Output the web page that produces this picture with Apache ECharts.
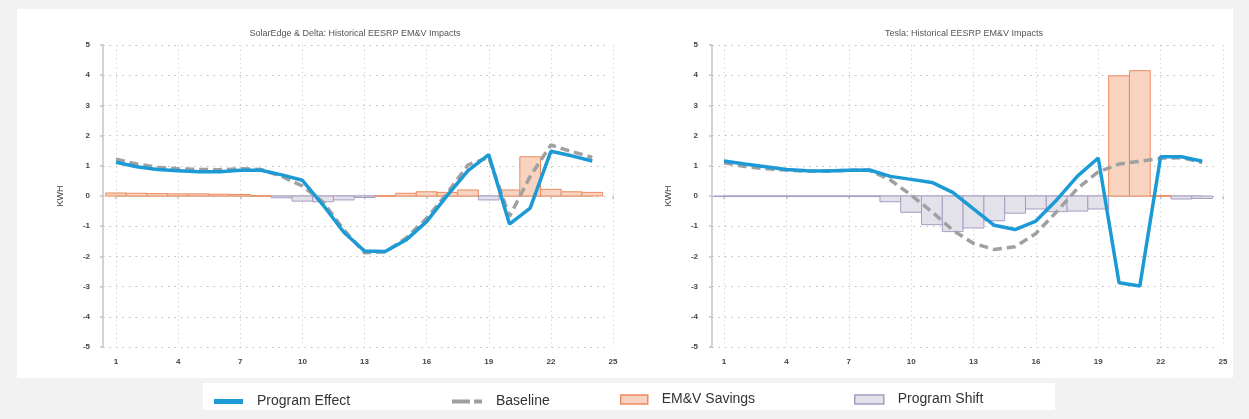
<!DOCTYPE html>
<html>
<head>
<meta charset="utf-8">
<script src="https://cdn.jsdelivr.net/npm/echarts@6/dist/echarts.min.js"></script>
<style>
  html, body { margin: 0; padding: 0; background: #f2f2f2; }
  #chart { width: 1249px; height: 419px; }
</style>
</head>
<body>
<div id="chart"></div>
<script>
// Hour of day (1..24)
const hours = [1,2,3,4,5,6,7,8,9,10,11,12,13,14,15,16,17,18,19,20,21,22,23,24];
const xTicks = [1, 4, 7, 10, 13, 16, 19, 22, 25];
const yTicks = [-5, -4, -3, -2, -1, 0, 1, 2, 3, 4, 5];

const titles = ['SolarEdge & Delta: Historical EESRP EM&V Impacts', 'Tesla: Historical EESRP EM&V Impacts'];

// SolarEdge & Delta (kWh per hour)
const effectSE   = [1.12, 0.97, 0.88, 0.84, 0.80, 0.80, 0.85, 0.85, 0.70, 0.52, -0.30, -1.20, -1.82, -1.84, -1.46, -0.85, 0.02, 0.84, 1.37, -0.93, -0.40, 1.48, 1.33, 1.16];
const baselineSE = [1.22, 1.06, 0.95, 0.90, 0.88, 0.87, 0.90, 0.88, 0.65, 0.33, -0.20, -1.12, -1.88, -1.85, -1.40, -0.74, 0.10, 1.03, 1.28, -0.68, 0.65, 1.69, 1.47, 1.28];
const emvSE      = [0.10, 0.09, 0.08, 0.07, 0.07, 0.06, 0.05, 0.01, null, null, null, null, null, 0.01, 0.09, 0.14, 0.12, 0.20, null, 0.20, 1.30, 0.22, 0.14, 0.12];
const shiftSE    = [null, null, null, null, null, null, null, null, -0.06, -0.17, -0.19, -0.13, -0.05, null, null, null, null, null, -0.13, null, null, null, null, null];

// Tesla (kWh per hour)
const effectT   = [1.16, 1.06, 0.97, 0.88, 0.84, 0.83, 0.85, 0.86, 0.65, 0.55, 0.45, 0.12, -0.43, -0.97, -1.11, -0.83, -0.13, 0.66, 1.26, -2.87, -2.98, 1.30, 1.30, 1.15];
const baselineT = [1.10, 0.98, 0.90, 0.86, 0.82, 0.83, 0.85, 0.85, 0.53, 0.03, -0.52, -1.13, -1.57, -1.77, -1.68, -1.24, -0.52, 0.25, 0.80, 1.06, 1.15, 1.25, 1.27, 1.11];
const emvT      = [null, null, null, null, null, null, null, null, null, null, null, null, null, null, null, null, null, null, null, 3.98, 4.15, 0.01, null, null];
const shiftT    = [-0.02, -0.02, -0.02, -0.02, -0.02, -0.02, -0.02, -0.02, -0.19, -0.54, -0.95, -1.18, -1.06, -0.82, -0.57, -0.43, -0.52, -0.50, -0.43, null, null, null, -0.10, -0.08];

const COLORS = {
  effect: '#1b9ad6',
  baseline: '#a0a0a0',
  emvFill: '#f7d3c0', emvLine: '#ee8b5e',
  shiftFill: '#e3e1ea', shiftLine: '#a79cc2'
};
const FONT = '"Liberation Sans", Arial, sans-serif';

const pairs = (vals) => hours.map((h, i) => [h, vals[i]]).filter(p => p[1] !== null);

// Hourly bars span one full hour on the value axis, centred on the hour
function hourBar(fill, stroke) {
  return function (params, api) {
    const x = api.value(0), v = api.value(1);
    const a = api.coord([x - 0.5, v]);
    const b = api.coord([x + 0.5, 0]);
    return {
      type: 'rect',
      shape: { x: a[0], y: Math.min(a[1], b[1]), width: b[0] - a[0], height: Math.max(Math.abs(b[1] - a[1]), 0.5) },
      style: { fill: fill, stroke: stroke, lineWidth: 1 }
    };
  };
}

// Geometry of the two side-by-side charts
const panels = [
  { frameLeft: 103, frameWidth: 506, axisOffset: 6, plotLeft: 116, plotWidth: 497, lineWidth: 476, center: 355,
    data: [emvSE, shiftSE, effectSE, baselineSE] },
  { frameLeft: 712, frameWidth: 506, axisOffset: 7, plotLeft: 724, plotWidth: 499, lineWidth: 478, center: 964,
    data: [emvT, shiftT, effectT, baselineT] }
];
const TOP = 45, HEIGHT = 302;

const grids = [], xAxes = [], yAxes = [], series = [], titleList = [];
const axisGray = '#c4c4c4';
const labelStyle = { fontSize: 8, fontWeight: 'bold', color: '#444', fontFamily: FONT };

panels.forEach((p, k) => {
  const base = k * 3;
  // frame grid: kWh axis with horizontal guides
  grids.push({ left: p.frameLeft, top: TOP, width: p.frameWidth, height: HEIGHT });
  xAxes.push({ gridIndex: base, type: 'value', min: 0, max: 1, show: false });
  yAxes.push({
    gridIndex: base, type: 'value', min: yTicks[0], max: yTicks[yTicks.length - 1], interval: 1,
    offset: p.axisOffset,
    axisLine: { show: true, lineStyle: { color: axisGray, width: 1.5 } },
    axisTick: { show: true, length: 3, lineStyle: { color: axisGray, width: 1.5 } },
    axisLabel: Object.assign({ margin: 7 }, labelStyle),
    splitLine: { show: true, lineStyle: { color: '#bdbdbd', type: [1.5, 5], width: 1.2 } },
    name: 'KWH', nameLocation: 'middle', nameGap: 32, nameRotate: 90,
    nameTextStyle: { fontSize: 9, color: '#444', fontFamily: FONT }
  });

  // plot grid: hour axis with vertical guides, holds the data
  grids.push({ left: p.plotLeft, top: TOP, width: p.plotWidth, height: HEIGHT });
  xAxes.push({
    gridIndex: base + 1, type: 'value', min: xTicks[0], max: xTicks[xTicks.length - 1], interval: 3,
    offset: 5,
    axisLine: { show: false },
    axisTick: { show: true, length: 3, lineStyle: { color: axisGray, width: 1.5 } },
    axisLabel: Object.assign({ margin: 6 }, labelStyle),
    splitLine: { show: true, lineStyle: { color: '#d6d6d6', type: [1.5, 3], width: 1 } }
  });
  yAxes.push({ gridIndex: base + 1, type: 'value', min: -5, max: 5, show: false });

  // hour axis line covering hours 1..24
  grids.push({ left: p.plotLeft, top: TOP, width: p.lineWidth, height: HEIGHT });
  xAxes.push({
    gridIndex: base + 2, type: 'value', min: hours[0], max: hours[hours.length - 1], offset: 5,
    axisLine: { show: true, lineStyle: { color: axisGray, width: 1.5 } },
    axisTick: { show: false }, axisLabel: { show: false }, splitLine: { show: false }
  });
  yAxes.push({ gridIndex: base + 2, type: 'value', min: -5, max: 5, show: false });

  const ax = { xAxisIndex: base + 1, yAxisIndex: base + 1 };
  series.push(Object.assign({
    name: 'EM&V Savings', type: 'custom', clip: false,
    itemStyle: { color: COLORS.emvFill, borderColor: COLORS.emvLine },
    renderItem: hourBar(COLORS.emvFill, COLORS.emvLine),
    encode: { x: 0, y: 1 }, data: pairs(p.data[0])
  }, ax));
  series.push(Object.assign({
    name: 'Program Shift', type: 'custom', clip: false,
    itemStyle: { color: COLORS.shiftFill, borderColor: COLORS.shiftLine },
    renderItem: hourBar(COLORS.shiftFill, COLORS.shiftLine),
    encode: { x: 0, y: 1 }, data: pairs(p.data[1])
  }, ax));
  series.push(Object.assign({
    name: 'Program Effect', type: 'line', symbol: 'none', z: 4,
    color: COLORS.effect,
    lineStyle: { color: COLORS.effect, width: 3.5 },
    data: pairs(p.data[2])
  }, ax));
  series.push(Object.assign({
    name: 'Baseline', type: 'line', symbol: 'none', z: 3,
    color: COLORS.baseline,
    lineStyle: { color: COLORS.baseline, width: 3.5, type: [9, 5] },
    data: pairs(p.data[3])
  }, ax));

  titleList.push({
    text: titles[k], left: p.center, top: 29, textAlign: 'center', padding: 0,
    textStyle: { fontSize: 9, fontWeight: 'normal', color: '#555', fontFamily: FONT }
  });
});

const legendText = { fontSize: 14, color: '#333', fontFamily: FONT, padding: [0, 0, 0, 9] };
function legendAt(left, name, icon, w, h, itemStyle) {
  return {
    left: left, top: 397 - h / 2, padding: 0, itemWidth: w, itemHeight: h,
    selectedMode: false, textStyle: legendText,
    data: [{ name: name, icon: icon, itemStyle: itemStyle }]
  };
}

const option = {
  backgroundColor: '#f2f2f2',
  animation: false,
  graphic: [
    { type: 'rect', z: -10, shape: { x: 17, y: 9, width: 1216, height: 369 }, style: { fill: '#ffffff' } },
    { type: 'rect', z: -10, shape: { x: 203, y: 383, width: 852, height: 27 }, style: { fill: '#ffffff' } }
  ],
  title: titleList,
  legend: [
    legendAt(214, 'Program Effect', 'rect', 29, 5, { color: COLORS.effect, borderWidth: 0 }),
    legendAt(452, 'Baseline', 'path://M0,0H18V4H0Z M22,0H30V4H22Z', 30, 5, { color: COLORS.baseline, borderWidth: 0 }),
    legendAt(620, 'EM&V Savings', 'rect', 27, 9, { color: COLORS.emvFill, borderColor: COLORS.emvLine, borderWidth: 1.5 }),
    legendAt(854, 'Program Shift', 'rect', 29, 9, { color: COLORS.shiftFill, borderColor: COLORS.shiftLine, borderWidth: 1.5 })
  ],
  grid: grids,
  xAxis: xAxes,
  yAxis: yAxes,
  series: series
};

const chart = echarts.init(document.getElementById('chart'), null, { renderer: 'canvas' });
chart.setOption(option);
</script>
</body>
</html>
